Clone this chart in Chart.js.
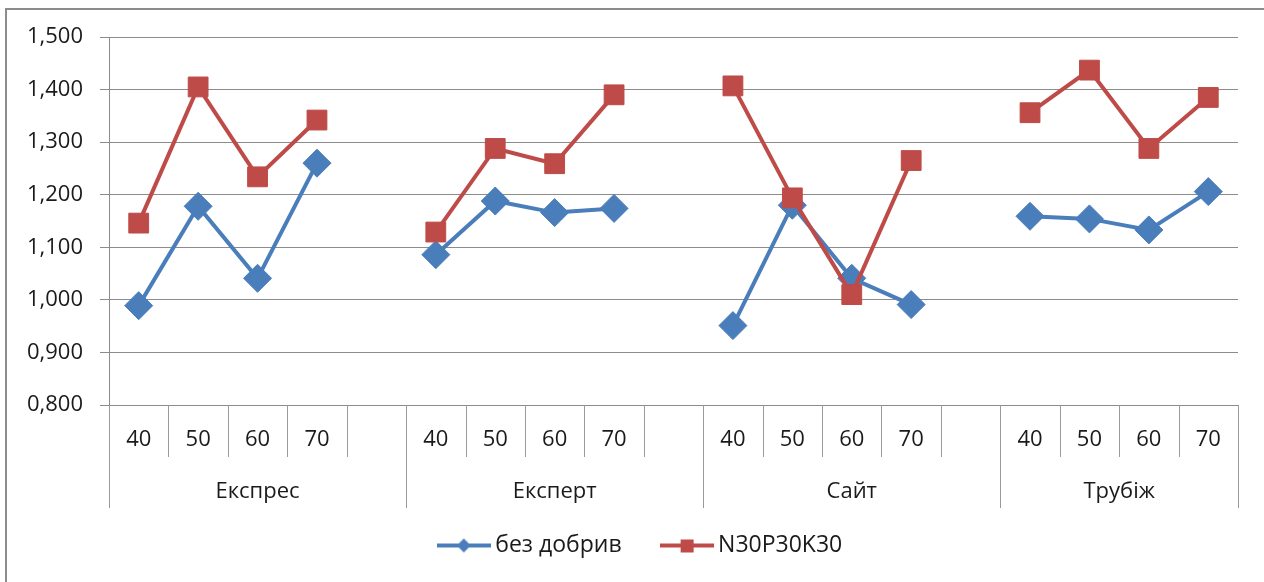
<!DOCTYPE html>
<html>
<head>
<meta charset="utf-8">
<style>
  html, body { margin: 0; padding: 0; background: #fff; overflow: hidden; }
  #wrap { width: 1264px; height: 582px; position: relative; }
</style>
<script src="https://cdn.jsdelivr.net/npm/chart.js@4.4.1/dist/chart.umd.min.js"></script>
</head>
<body>
<div id="wrap"><canvas id="c"></canvas></div>
<script>
// Variety groups and fertiliser dose levels on the two-level category axis
const groups = ['Експрес', 'Експерт', 'Сайт', 'Трубіж'];
const doses = ['40', '50', '60', '70'];

// Values per variety, doses 40/50/60/70 in order
const bezDobryv = [0.989, 1.178, 1.041, 1.260, 1.086, 1.188, 1.166, 1.174,
                   0.951, 1.180, 1.041, 0.991, 1.159, 1.154, 1.133, 1.206];
const npk = [1.146, 1.405, 1.234, 1.342, 1.129, 1.288, 1.259, 1.390,
             1.407, 1.194, 1.010, 1.265, 1.356, 1.437, 1.288, 1.385];

const seriesNames = ['без добрив', 'N30P30K30'];
const yTickLabels = ['0,800', '0,900', '1,000', '1,100', '1,200', '1,300', '1,400', '1,500'];

// Category slots: each group's doses followed by an empty spacer slot (except after the last group)
const slotLabels = [];
const groupStarts = [];
groups.forEach((g, gi) => {
  groupStarts.push(slotLabels.length);
  doses.forEach(d => slotLabels.push(d));
  if (gi < groups.length - 1) slotLabels.push('');
});

function toSlots(values) {
  const out = [];
  groups.forEach((g, gi) => {
    doses.forEach((d, di) => out.push(values[gi * doses.length + di]));
    if (gi < groups.length - 1) out.push(null);
  });
  return out;
}

const FONT = 'Open Sans';
const TEXT = '#1a1a1a';
const BLUE = '#4A7EBB';
const RED = '#BE4B48';

// Legend swatch: a short line segment with the series marker in the middle
function swatch(color, marker) {
  const c = document.createElement('canvas');
  c.width = 54; c.height = 16;
  const g = c.getContext('2d');
  g.strokeStyle = color; g.lineWidth = 4;
  g.beginPath(); g.moveTo(0, 8); g.lineTo(54, 8); g.stroke();
  g.fillStyle = color;
  if (marker === 'diamond') {
    g.beginPath(); g.moveTo(27, 1); g.lineTo(34, 8); g.lineTo(27, 15); g.lineTo(20, 8); g.closePath(); g.fill();
  } else {
    g.fillRect(21, 2, 13, 13);
  }
  return c;
}
const swatches = [swatch(BLUE, 'diamond'), swatch(RED, 'square')];

// Frame around the chart, plus the category dividers and group names under the axis
const axisFrame = {
  id: 'axisFrame',
  afterLayout(chart) {
    // centre the legend row a little right of the canvas middle
    if (chart.legend) {
      chart.legend.left += 24;
      chart.legend.right += 24;
    }
  },
  beforeDraw(chart) {
    const ctx = chart.ctx;
    ctx.save();
    ctx.fillStyle = '#fff';
    ctx.fillRect(0, 0, chart.width, chart.height);
    ctx.strokeStyle = '#8c8c8c';
    ctx.lineWidth = 2;
    ctx.strokeRect(6, 9, chart.width + 40, chart.height + 40);
    ctx.restore();
  },
  afterDraw(chart) {
    const x = chart.scales.x;
    const area = chart.chartArea;
    const ctx = chart.ctx;
    const n = x.getLabels().length;
    const half = (x.getPixelForValue(1) - x.getPixelForValue(0)) / 2;
    const edge = i => (i < n ? x.getPixelForValue(i) - half : x.getPixelForValue(n - 1) + half);
    ctx.save();
    ctx.strokeStyle = '#9a9a9a';
    ctx.lineWidth = 1;
    for (let i = 0; i <= n; i++) {
      const isGroupEdge = groupStarts.includes(i) || i === n;
      const px = Math.round(edge(i)) + 0.5;
      ctx.beginPath();
      ctx.moveTo(px, area.bottom);
      ctx.lineTo(px, area.bottom + (isGroupEdge ? 103 : 52));
      ctx.stroke();
    }
    ctx.fillStyle = TEXT;
    ctx.font = '22px "' + FONT + '"';
    ctx.textAlign = 'center';
    ctx.textBaseline = 'middle';
    groups.forEach((g, gi) => {
      const a = edge(groupStarts[gi]);
      const b = edge(gi + 1 < groups.length ? groupStarts[gi + 1] : n);
      ctx.fillText(g, (a + b) / 2, area.bottom + 87);
    });
    ctx.restore();
  }
};

new Chart(document.getElementById('c'), {
  type: 'line',
  data: {
    labels: slotLabels,
    datasets: [
      {
        label: seriesNames[0],
        data: toSlots(bezDobryv),
        borderColor: BLUE,
        backgroundColor: BLUE,
        borderWidth: 4,
        pointStyle: 'rectRot',
        pointRadius: 14,
        pointHoverRadius: 14,
        pointBorderWidth: 1,
        tension: 0,
        spanGaps: false,
        order: 2
      },
      {
        label: seriesNames[1],
        data: toSlots(npk),
        borderColor: RED,
        backgroundColor: RED,
        borderWidth: 4,
        pointStyle: 'rect',
        pointRadius: 14,
        pointHoverRadius: 14,
        pointBorderWidth: 1,
        tension: 0,
        spanGaps: false,
        order: 1
      }
    ]
  },
  options: {
    responsive: true,
    maintainAspectRatio: false,
    animation: false,
    devicePixelRatio: 1,
    layout: { padding: { left: 0, right: 26, top: 37, bottom: 15 } },
    plugins: {
      tooltip: { enabled: false },
      legend: {
        position: 'bottom',
        labels: {
          usePointStyle: true,
          pointStyleWidth: 40,
          padding: 45,
          color: TEXT,
          font: { family: FONT, size: 23 },
          generateLabels: chart => chart.data.datasets.map((ds, i) => ({
            text: ds.label,
            pointStyle: swatches[i],
            fillStyle: ds.borderColor,
            strokeStyle: ds.borderColor,
            lineWidth: 0,
            hidden: false,
            datasetIndex: i,
            fontColor: TEXT
          }))
        }
      }
    },
    scales: {
      x: {
        type: 'category',
        offset: true,
        grid: { display: false },
        border: { display: false },
        ticks: {
          autoSkip: false,
          maxRotation: 0,
          padding: 14,
          color: TEXT,
          font: { family: FONT, size: 22 }
        },
        afterFit: s => { s.height = 84; }
      },
      y: {
        min: 0.8,
        max: 1.5,
        grid: { color: '#8c8c8c', lineWidth: 1, tickLength: 9 },
        border: { color: '#8c8c8c' },
        ticks: {
          stepSize: 0.1,
          padding: 17,
          color: TEXT,
          font: { family: FONT, size: 22 },
          callback: (v, i) => yTickLabels[i]
        },
        afterFit: s => { s.width = 109; }
      }
    }
  },
  plugins: [axisFrame]
});
</script>
</body>
</html>
